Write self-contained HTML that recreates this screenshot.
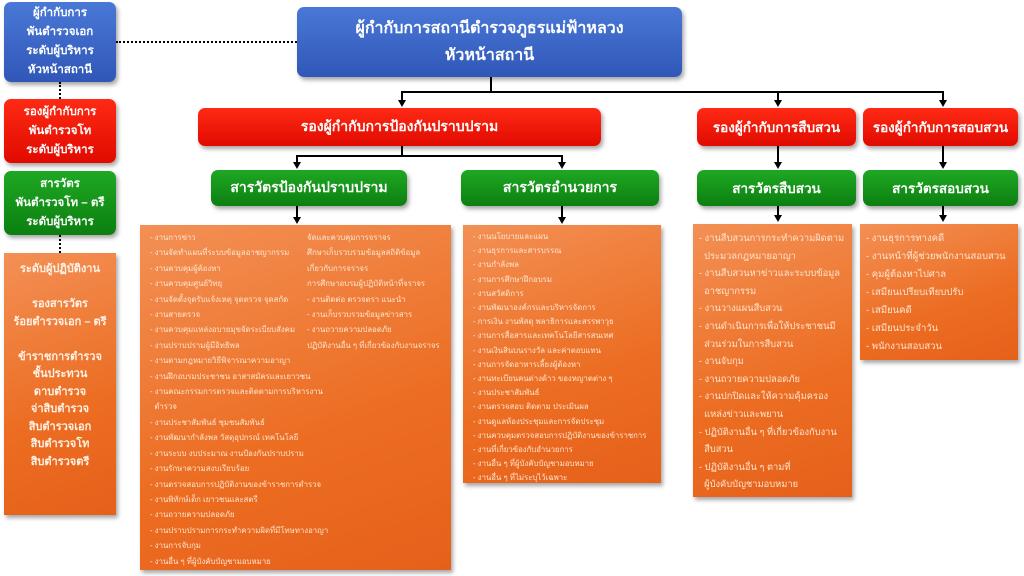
<!DOCTYPE html>
<html><head><meta charset="utf-8"><style>
*{margin:0;padding:0;box-sizing:border-box}
body{width:1024px;height:576px;background:#fff;position:relative;overflow:hidden;font-family:"Liberation Sans","DejaVu Sans",sans-serif}
.b{position:absolute;display:flex;align-items:center;justify-content:center;text-align:center;color:#fff;border-radius:7px;box-shadow:2px 3px 4px rgba(0,0,0,.35)}
.blue{background:linear-gradient(#4a78d6,#3057b8)}
.red{background:linear-gradient(#ff2a14,#e00a00)}
.green{background:linear-gradient(#1fa824,#0c7f10)}
.or{position:absolute;background:linear-gradient(160deg,#f39055,#ec6d22 60%,#e6601a);box-shadow:2px 3px 4px rgba(0,0,0,.35);color:#fde5cf}
.ln{position:absolute;background:#000}
.ar{position:absolute;width:0;height:0;border-left:4px solid transparent;border-right:4px solid transparent;border-top:7px solid #000}
.dv{position:absolute;border-left:2px dotted #000;width:0}
.dh{position:absolute;border-top:2px dotted #000;height:0}
.sm{font-size:7.8px;line-height:15.4px;white-space:nowrap}
.md{font-size:9.3px;line-height:17.6px;white-space:nowrap}
</style></head><body>

<div class="b blue" style="left:4px;top:2px;width:112px;height:80px;font-size:11.5px;line-height:19px;font-weight:bold">ผู้กำกับการ<br>พันตำรวจเอก<br>ระดับผู้บริหาร<br>หัวหน้าสถานี</div>
<div class="b red" style="left:4px;top:99px;width:112px;height:64px;font-size:11.5px;line-height:19px;font-weight:bold">รองผู้กำกับการ<br>พันตำรวจโท<br>ระดับผู้บริหาร</div>
<div class="b green" style="left:4px;top:171px;width:112px;height:64px;font-size:11.5px;line-height:19px;font-weight:bold">สารวัตร<br>พันตำรวจโท – ตรี<br>ระดับผู้บริหาร</div>
<div class="or" style="left:4px;top:253px;width:112px;height:262px;text-align:center;font-size:11px;line-height:17.5px;font-weight:bold;padding-top:8px;color:#fff2e6">ระดับผู้ปฏิบัติงาน<br><br>รองสารวัตร<br>ร้อยตำรวจเอก – ตรี<br><br>ข้าราชการตำรวจ<br>ชั้นประทวน<br>ดาบตำรวจ<br>จ่าสิบตำรวจ<br>สิบตำรวจเอก<br>สิบตำรวจโท<br>สิบตำรวจตรี</div>
<div class="dv" style="left:59px;top:82px;height:17px"></div>
<div class="dv" style="left:59px;top:235px;height:18px"></div>
<div class="dh" style="left:116px;top:41px;width:181px"></div>

<div class="b blue" style="left:297px;top:7px;width:385px;height:70px;font-size:16px;line-height:27px;font-weight:bold">ผู้กำกับการสถานีตำรวจภูธรแม่ฟ้าหลวง<br>หัวหน้าสถานี</div>
<div class="ln" style="left:490px;top:77px;width:2px;height:16px"></div>
<div class="ln" style="left:401px;top:91px;width:543px;height:2px"></div>
<div class="ln" style="left:401px;top:91px;width:2px;height:10px"></div><div class="ar" style="left:398px;top:100px"></div>
<div class="ln" style="left:777px;top:91px;width:2px;height:10px"></div><div class="ar" style="left:774px;top:100px"></div>
<div class="ln" style="left:942px;top:91px;width:2px;height:10px"></div><div class="ar" style="left:939px;top:100px"></div>

<div class="b red" style="left:198px;top:108px;width:403px;height:38px;font-size:14px;font-weight:bold">รองผู้กำกับการป้องกันปราบปราม</div>
<div class="b red" style="left:697px;top:108px;width:159px;height:38px;font-size:13.5px;font-weight:bold">รองผู้กำกับการสืบสวน</div>
<div class="b red" style="left:863px;top:108px;width:155px;height:38px;font-size:13.5px;font-weight:bold">รองผู้กำกับการสอบสวน</div>

<div class="ln" style="left:401px;top:146px;width:2px;height:11px"></div>
<div class="ln" style="left:296px;top:155px;width:267px;height:2px"></div>
<div class="ln" style="left:296px;top:155px;width:2px;height:8px"></div><div class="ar" style="left:293px;top:162px"></div>
<div class="ln" style="left:561px;top:155px;width:2px;height:8px"></div><div class="ar" style="left:558px;top:162px"></div>
<div class="ln" style="left:777px;top:146px;width:2px;height:17px"></div><div class="ar" style="left:774px;top:162px"></div>
<div class="ln" style="left:942px;top:146px;width:2px;height:17px"></div><div class="ar" style="left:939px;top:162px"></div>

<div class="b green" style="left:211px;top:170px;width:196px;height:36px;font-size:14px;font-weight:bold">สารวัตรป้องกันปราบปราม</div>
<div class="b green" style="left:461px;top:170px;width:198px;height:36px;font-size:14px;font-weight:bold">สารวัตรอำนวยการ</div>
<div class="b green" style="left:697px;top:170px;width:159px;height:36px;font-size:13.5px;font-weight:bold">สารวัตรสืบสวน</div>
<div class="b green" style="left:863px;top:170px;width:155px;height:36px;font-size:13.5px;font-weight:bold">สารวัตรสอบสวน</div>

<div class="ln" style="left:296px;top:206px;width:2px;height:12px"></div><div class="ar" style="left:293px;top:217px"></div>
<div class="ln" style="left:561px;top:206px;width:2px;height:12px"></div><div class="ar" style="left:558px;top:217px"></div>
<div class="ln" style="left:777px;top:206px;width:2px;height:10px"></div><div class="ar" style="left:774px;top:215px"></div>
<div class="ln" style="left:942px;top:206px;width:2px;height:10px"></div><div class="ar" style="left:939px;top:215px"></div>

<div class="or sm" style="left:140px;top:225px;width:311px;height:345px">
<div style="position:absolute;left:10px;top:5px">- งานการข่าว<br>- งานจัดทำแผนที่ระบบข้อมูลอาชญากรรม<br>- งานควบคุมผู้ต้องหา<br>- งานควบคุมศูนย์วิทยุ<br>- งานจัดตั้งจุดรับแจ้งเหตุ จุดตรวจ จุดสกัด<br>- งานสายตรวจ<br>- งานควบคุมแหล่งอบายมุขจัดระเบียบสังคม<br>- งานปราบปรามผู้มีอิทธิพล<br>- งานตามกฎหมายวิธีพิจารณาความอาญา<br>- งานฝึกอบรมประชาชน อาสาสมัครและเยาวชน<br>- งานคณะกรรมการตรวจและติดตามการบริหารงาน<br>&nbsp;&nbsp;ตำรวจ<br>- งานประชาสัมพันธ์ ชุมชนสัมพันธ์<br>- งานพัฒนากำลังพล วัสดุอุปกรณ์ เทคโนโลยี<br>- งานระบบ งบประมาณ งานป้องกันปราบปราม<br>- งานรักษาความสงบเรียบร้อย<br>- งานตรวจสอบการปฏิบัติงานของข้าราชการตำรวจ<br>- งานพิทักษ์เด็ก เยาวชนและสตรี<br>- งานถวายความปลอดภัย<br>- งานปราบปรามการกระทำความผิดที่มีโทษทางอาญา<br>- งานการจับกุม<br>- งานอื่น ๆ ที่ผู้บังคับบัญชามอบหมาย</div>
<div style="position:absolute;left:167px;top:5px">จัดและควบคุมการจราจร<br>ศึกษาเก็บรวบรวมข้อมูลสถิติข้อมูล<br>เกี่ยวกับการจราจร<br>การศึกษาอบรมผู้ปฏิบัติหน้าที่จราจร<br>- งานติดต่อ ตรวจตรา แนะนำ<br>- งานเก็บรวบรวมข้อมูลข่าวสาร<br>- งานถวายความปลอดภัย<br>ปฏิบัติงานอื่น ๆ ที่เกี่ยวข้องกับงานจราจร</div>
</div>

<div class="or sm" style="left:463px;top:225px;width:198px;height:258px;overflow:hidden">
<div style="position:absolute;left:10px;top:5px;line-height:14.2px">- งานนโยบายและแผน<br>- งานธุรการและสารบรรณ<br>- งานกำลังพล<br>- งานการศึกษาฝึกอบรม<br>- งานสวัสดิการ<br>- งานพัฒนาองค์กรและบริหารจัดการ<br>- การเงิน งานพัสดุ พลาธิการและสรรพาวุธ<br>- งานการสื่อสารและเทคโนโลยีสารสนเทศ<br>- งานเงินสินบนรางวัล และค่าตอบแทน<br>- งานการจัดอาหารเลี้ยงผู้ต้องหา<br>- งานทะเบียนคนต่างด้าว ของหญาตต่าง ๆ<br>- งานประชาสัมพันธ์<br>- งานตรวจสอบ ติดตาม ประเมินผล<br>- งานดูแลห้องประชุมและการจัดประชุม<br>- งานควบคุมตรวจสอบการปฏิบัติงานของข้าราชการ<br>- งานที่เกี่ยวข้องกับอำนวยการ<br>- งานอื่น ๆ ที่ผู้บังคับบัญชามอบหมาย<br>- งานอื่น ๆ ที่ไม่ระบุไว้เฉพาะ</div>
</div>

<div class="or md" style="left:693px;top:224px;width:159px;height:273px;padding:6px 2px 0 6px;overflow:hidden">- งานสืบสวนการกระทำความผิดตาม<br>&nbsp;&nbsp;ประมวลกฎหมายอาญา<br>- งานสืบสวนหาข่าวและระบบข้อมูล<br>&nbsp;&nbsp;อาชญากรรม<br>- งานวางแผนสืบสวน<br>- งานดำเนินการเพื่อให้ประชาชนมี<br>&nbsp;&nbsp;ส่วนร่วมในการสืบสวน<br>- งานจับกุม<br>- งานถวายความปลอดภัย<br>- งานปกปิดและให้ความคุ้มครอง<br>&nbsp;&nbsp;แหล่งข่าวและพยาน<br>- ปฏิบัติงานอื่น ๆ ที่เกี่ยวข้องกับงาน<br>&nbsp;&nbsp;สืบสวน<br>- ปฏิบัติงานอื่น ๆ ตามที่<br>&nbsp;&nbsp;ผู้บังคับบัญชามอบหมาย</div>

<div class="or md" style="left:860px;top:224px;width:158px;height:136px;padding:6px 4px 0 6px;font-size:9.5px;line-height:18px">- งานธุรการทางคดี<br>- งานหน้าที่ผู้ช่วยพนักงานสอบสวน<br>- คุมผู้ต้องหาไปศาล<br>- เสมียนเปรียบเทียบปรับ<br>- เสมียนคดี<br>- เสมียนประจำวัน<br>- พนักงานสอบสวน</div>

</body></html>
